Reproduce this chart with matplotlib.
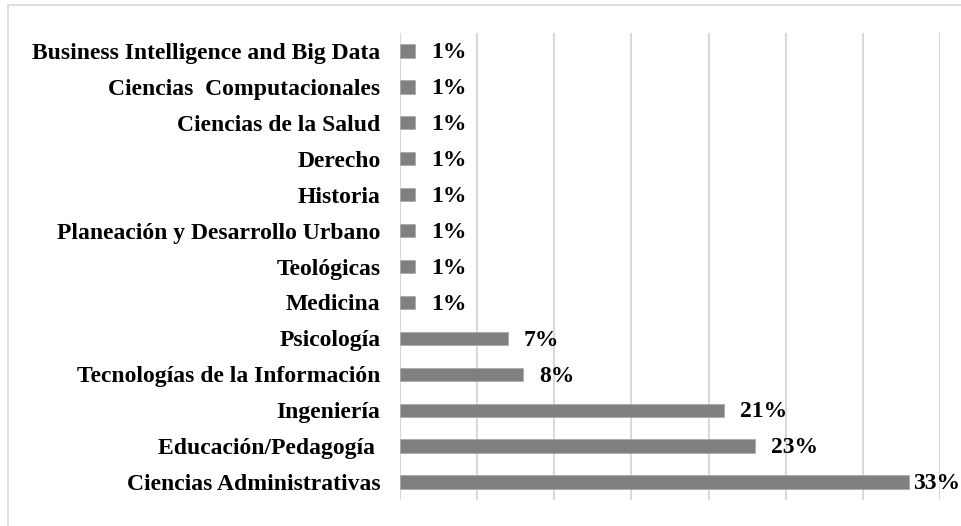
import matplotlib
matplotlib.use("Agg")
import matplotlib.pyplot as plt
from matplotlib.patches import Rectangle

categories = [
    "Business Intelligence and Big Data",
    "Ciencias  Computacionales",
    "Ciencias de la Salud",
    "Derecho",
    "Historia",
    "Planeación y Desarrollo Urbano",
    "Teológicas",
    "Medicina",
    "Psicología",
    "Tecnologías de la Información",
    "Ingeniería",
    "Educación/Pedagogía ",
    "Ciencias Administrativas",
]
values = [1, 1, 1, 1, 1, 1, 1, 1, 7, 8, 21, 23, 33]
labels = ["1%", "1%", "1%", "1%", "1%", "1%", "1%", "1%", "7%", "8%", "21%", "23%", "33%"]

W, H = 961, 526
fig = plt.figure(figsize=(W / 100, H / 100), dpi=100)
fig.patch.set_facecolor("white")

# outer chart frame (partially cut off)
fig.patches.append(Rectangle((8 / W, -0.1), 1.2, 1 - 4.5 / H + 0.1, transform=fig.transFigure,
                             fill=False, edgecolor="#d9d9d9", linewidth=1.2, zorder=0))

ax = fig.add_axes([400 / W, (H - 500) / H, (940 - 400) / W, (500 - 33) / H])
n = len(categories)
ypos = list(range(n))
ax.barh(ypos, values, height=0.37, color="#808080", edgecolor="#a6a6a6", linewidth=0.5, zorder=3)
ax.set_xlim(0, 35)
ax.set_ylim(n - 0.5, -0.5)
ax.set_xticks(range(0, 36, 5))
ax.set_xticklabels([])
ax.tick_params(axis="x", length=0)
ax.tick_params(axis="y", length=0, pad=14)
ax.set_yticks(ypos)
ax.set_yticklabels(categories, fontfamily="Liberation Serif", fontweight="bold", fontsize=17)
ax.grid(axis="x", color="#d9d9d9", linewidth=1.5, zorder=0)
for s in ax.spines.values():
    s.set_visible(False)

px_per_unit = (940 - 400) / 35
for y, v, lab in zip(ypos, values, labels):
    off = 16 if v < 30 else 4
    ax.text(v + off / px_per_unit, y + 0.05, lab, ha="left", va="center",
            fontfamily="Liberation Serif", fontweight="bold", fontsize=17, color="black",
            clip_on=False, zorder=4)

fig.savefig("out.png", dpi=100)
